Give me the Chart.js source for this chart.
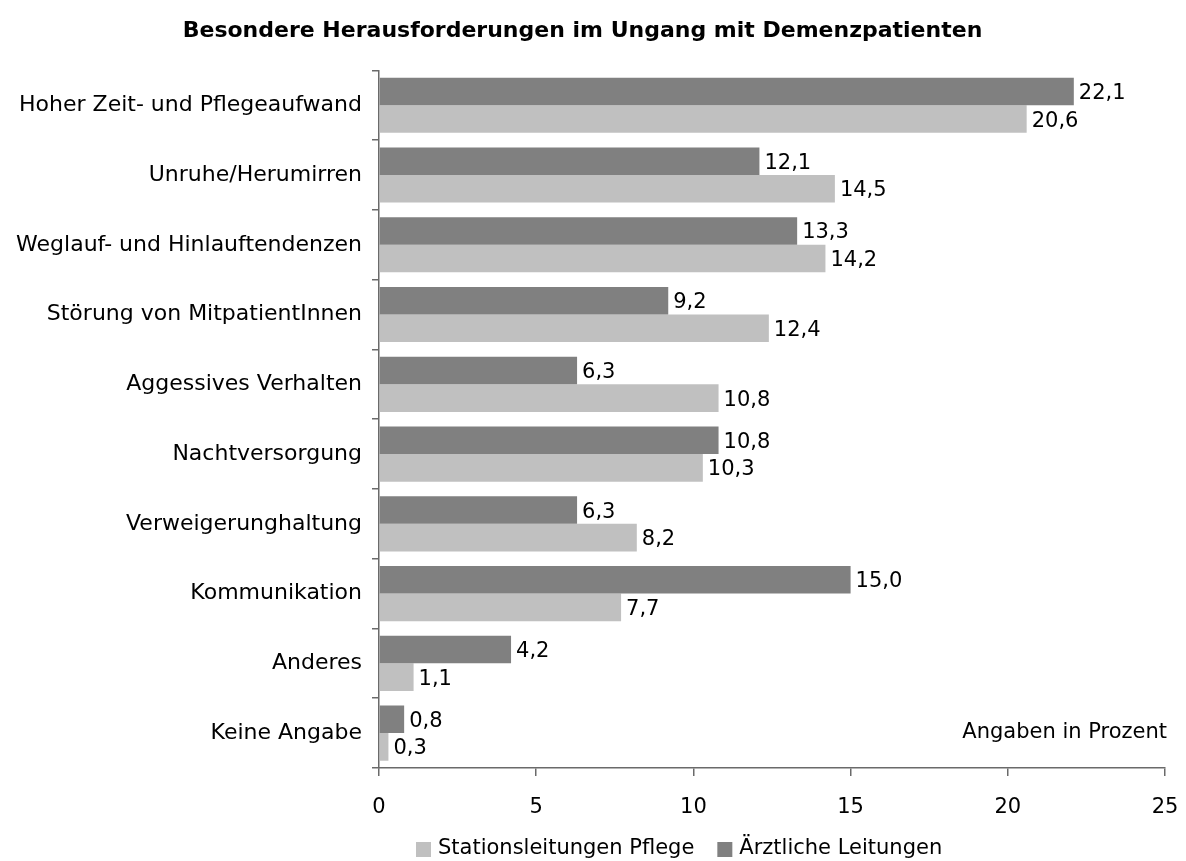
<!DOCTYPE html>
<html>
<head>
<meta charset="utf-8">
<script src="https://cdn.jsdelivr.net/npm/chart.js@4"></script>
<style>
  html, body { margin: 0; padding: 0; background: #fff; }
  #wrap { width: 1186px; height: 861px; }
</style>
</head>
<body>
<div id="wrap"><canvas id="barChart" width="1186" height="861"></canvas></div>
<script>
// Categories and values, top to bottom
const categories = [
  'Hoher Zeit- und Pflegeaufwand',
  'Unruhe/Herumirren',
  'Weglauf- und Hinlauftendenzen',
  'Störung von MitpatientInnen',
  'Aggessives Verhalten',
  'Nachtversorgung',
  'Verweigerunghaltung',
  'Kommunikation',
  'Anderes',
  'Keine Angabe'
];
const aerztlich = [22.1, 12.1, 13.3, 9.2, 6.3, 10.8, 6.3, 15.0, 4.2, 0.8];
const pflege = [20.6, 14.5, 14.2, 12.4, 10.8, 10.3, 8.2, 7.7, 1.1, 0.3];
const xTicks = [0, 5, 10, 15, 20, 25];

const FONT = "'DejaVu Sans', Verdana, sans-serif";
const DARK = '#808080';
const LIGHT = '#c0c0c0';
const AXIS = '#6a6a6a';

// value labels right of each bar
const valueLabels = {
  id: 'valueLabels',
  afterDatasetsDraw(chart) {
    const ctx = chart.ctx;
    ctx.save();
    ctx.font = '21px ' + FONT;
    ctx.fillStyle = '#000';
    ctx.textAlign = 'left';
    ctx.textBaseline = 'middle';
    chart.data.datasets.forEach((ds, i) => {
      chart.getDatasetMeta(i).data.forEach((bar, j) => {
        ctx.fillText(ds.data[j].toFixed(1).replace('.', ','), bar.x + 5, bar.y + 2);
      });
    });
    // note in lower right
    ctx.textAlign = 'right';
    ctx.fillText('Angaben in Prozent', chart.chartArea.right + 2, 733);
    ctx.restore();
  }
};

// legend at bottom (light series first)
const bottomLegend = {
  id: 'bottomLegend',
  afterDraw(chart) {
    const ctx = chart.ctx;
    ctx.save();
    ctx.font = '21px ' + FONT;
    ctx.textBaseline = 'middle';
    ctx.textAlign = 'left';
    const items = [[chart.data.datasets[1].label, LIGHT], [chart.data.datasets[0].label, DARK]];
    let x = 416;
    const y = 849;
    items.forEach(([txt, col]) => {
      ctx.fillStyle = col;
      ctx.fillRect(x, y - 7, 15, 15);
      ctx.fillStyle = '#000';
      ctx.fillText(txt, x + 22, y);
      x += 22 + ctx.measureText(txt).width + 23;
    });
    ctx.restore();
  }
};

new Chart(document.getElementById('barChart').getContext('2d'), {
  type: 'bar',
  data: {
    labels: categories,
    datasets: [
      { label: 'Ärztliche Leitungen', data: aerztlich, backgroundColor: DARK },
      { label: 'Stationsleitungen Pflege', data: pflege, backgroundColor: LIGHT }
    ]
  },
  options: {
    indexAxis: 'y',
    responsive: false,
    animation: false,
    layout: { padding: { left: 0, right: 21, top: 0, bottom: 0 } },
    datasets: { bar: { categoryPercentage: 0.79, barPercentage: 1.0 } },
    plugins: {
      legend: { display: false },
      tooltip: { enabled: false },
      title: {
        display: true,
        text: 'Besondere Herausforderungen im Ungang mit Demenzpatienten',
        color: '#000',
        font: { family: FONT, size: 22, weight: 'bold' },
        padding: { top: 18, bottom: 26 }
      }
    },
    scales: {
      x: {
        min: 0,
        max: 25,
        afterBuildTicks(scale) { scale.ticks = xTicks.map(v => ({ value: v })); },
        afterFit(scale) {
          scale.height = 93;
          scale.paddingLeft = 0;
          scale.paddingRight = 0;
        },
        border: { color: AXIS, width: 1.5 },
        grid: { drawOnChartArea: false, tickLength: 8, color: AXIS, lineWidth: 1.5 },
        ticks: { color: '#000', padding: 19, font: { family: FONT, size: 21 } }
      },
      y: {
        afterFit(scale) { scale.width = 379; },
        border: { color: AXIS, width: 1.5 },
        grid: { drawOnChartArea: false, tickLength: 7, color: AXIS, lineWidth: 1.5, offset: true },
        ticks: { color: '#000', padding: 10, font: { family: FONT, size: 22 } }
      }
    }
  },
  plugins: [valueLabels, bottomLegend]
});
</script>
</body>
</html>
